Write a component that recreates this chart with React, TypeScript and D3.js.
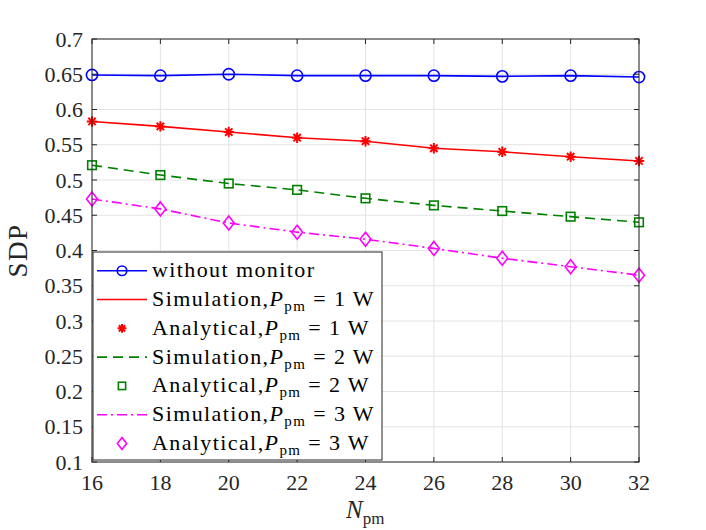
import React from "react";
import * as d3 from "d3";

const xValues = [16, 18, 20, 22, 24, 26, 28, 30, 32];
const withoutMonitor = [0.649, 0.648, 0.650, 0.648, 0.648, 0.648, 0.647, 0.648, 0.646];
const pm1 = [0.583, 0.576, 0.568, 0.560, 0.555, 0.545, 0.540, 0.533, 0.527];
const pm2 = [0.521, 0.507, 0.495, 0.486, 0.474, 0.464, 0.456, 0.448, 0.440];
const pm3 = [0.473, 0.459, 0.439, 0.426, 0.416, 0.403, 0.389, 0.377, 0.365];
const xTicks = [16, 18, 20, 22, 24, 26, 28, 30, 32];
const yTicks = [0.1, 0.15, 0.2, 0.25, 0.3, 0.35, 0.4, 0.45, 0.5, 0.55, 0.6, 0.65, 0.7];

const W = 706, H = 530;
const L = 92, R = 639, T = 39, B = 462;
const FONT = "'Liberation Serif', 'Times New Roman', 'DejaVu Serif', serif";

type Marker = "circle" | "star" | "square" | "diamond" | "none";

function MarkerShape({ type, x, y, color, s = 1 }: { type: Marker; x: number; y: number; color: string; s?: number }) {
  if (type === "circle") return <circle cx={x} cy={y} r={5.6 * s} fill="none" stroke={color} strokeWidth={1.6} />;
  if (type === "square") return <rect x={x - 4.3 * s} y={y - 4.3 * s} width={8.6 * s} height={8.6 * s} fill="none" stroke={color} strokeWidth={1.6} />;
  if (type === "diamond") return <path d={`M${x},${y - 7 * s}L${x + 5.5 * s},${y}L${x},${y + 7 * s}L${x - 5.5 * s},${y}Z`} fill="none" stroke={color} strokeWidth={1.6} />;
  if (type === "star") {
    const r = 5.2 * s;
    const d = [0, 45, 90, 135].map(a => {
      const rad = (a * Math.PI) / 180;
      return `M${x - r * Math.cos(rad)},${y - r * Math.sin(rad)}L${x + r * Math.cos(rad)},${y + r * Math.sin(rad)}`;
    }).join("");
    return <path d={d} stroke={color} strokeWidth={2} fill="none" />;
  }
  return null;
}

const textStyle = { fontFamily: FONT };

export default function App() {
  const x = d3.scaleLinear().domain([16, 32]).range([L, R]);
  const y = d3.scaleLinear().domain([0.1, 0.7]).range([B, T]);
  const line = (vals: number[]) => d3.line<number>().x((_, i) => x(xValues[i])).y(v => y(v))(vals) || "";

  const series = [
    { vals: withoutMonitor, color: "#0000ff", dash: "", marker: "circle" as Marker },
    { vals: pm1, color: "#ff0000", dash: "", marker: "star" as Marker },
    { vals: pm2, color: "#008000", dash: "10,6", marker: "square" as Marker },
    { vals: pm3, color: "#ff00ff", dash: "10,4,2,4", marker: "diamond" as Marker },
  ];

  const legend: { label: string; p?: string; color: string; dash?: string; line: boolean; marker: Marker }[] = [
    { label: "without monitor", color: "#0000ff", line: true, dash: "", marker: "circle" },
    { label: "Simulation,", p: "1", color: "#ff0000", line: true, dash: "", marker: "none" },
    { label: "Analytical,", p: "1", color: "#ff0000", line: false, marker: "star" },
    { label: "Simulation,", p: "2", color: "#008000", line: true, dash: "10,6", marker: "none" },
    { label: "Analytical,", p: "2", color: "#008000", line: false, marker: "square" },
    { label: "Simulation,", p: "3", color: "#ff00ff", line: true, dash: "10,4,2,4", marker: "none" },
    { label: "Analytical,", p: "3", color: "#ff00ff", line: false, marker: "diamond" },
  ];
  const lgX = 93, lgY = 252, lgW = 289, lgH = 208;
  const row0 = 270.7, rowStep = 28.8;

  return (
    <svg width={W} height={H} style={{ display: "block", position: "absolute", left: 0, top: 0, fontFamily: FONT }}>
      <rect x={0} y={0} width={W} height={H} fill="#fff" />
      <rect x={L} y={T} width={R - L} height={B - T} fill="#fff" />
      {xTicks.map(t => (
        <line key={"gx" + t} x1={x(t)} x2={x(t)} y1={T} y2={B} stroke="#e3e3e3" strokeWidth={1} />
      ))}
      {yTicks.map(t => (
        <line key={"gy" + t} x1={L} x2={R} y1={y(t)} y2={y(t)} stroke="#e3e3e3" strokeWidth={1} />
      ))}
      {series.map((s, i) => (
        <g key={"s" + i}>
          <path d={line(s.vals)} fill="none" stroke={s.color} strokeWidth={1.6} strokeDasharray={s.dash} />
          {s.vals.map((v, j) => (
            <MarkerShape key={j} type={s.marker} x={x(xValues[j])} y={y(v)} color={s.color} />
          ))}
        </g>
      ))}
      <rect x={L} y={T} width={R - L} height={B - T} fill="none" stroke="#262626" strokeWidth={1} />
      {xTicks.map(t => (
        <g key={"tx" + t}>
          <line x1={x(t)} x2={x(t)} y1={B} y2={B - 5} stroke="#262626" />
          <line x1={x(t)} x2={x(t)} y1={T} y2={T + 5} stroke="#262626" />
          <text style={textStyle} x={x(t)} y={B + 28} textAnchor="middle" fontSize={22} fill="#262626">{t}</text>
        </g>
      ))}
      {yTicks.map(t => (
        <g key={"ty" + t}>
          <line x1={L} x2={L + 5} y1={y(t)} y2={y(t)} stroke="#262626" />
          <line x1={R} x2={R - 5} y1={y(t)} y2={y(t)} stroke="#262626" />
          <text style={textStyle} x={L - 9} y={y(t) + 7.5} textAnchor="end" fontSize={22} fill="#262626">{String(+t.toFixed(2))}</text>
        </g>
      ))}
      <text style={textStyle} transform={`translate(27,${(T + B) / 2}) rotate(-90)`} textAnchor="middle" fontSize={27} letterSpacing={1.5} fill="#262626">SDP</text>
      <text style={textStyle} x={346} y={518} fontSize={25} fill="#262626">
        <tspan fontStyle="italic">N</tspan>
        <tspan fontSize={17} dy={6}>pm</tspan>
      </text>
      <rect x={lgX} y={lgY} width={lgW} height={lgH} fill="#fff" stroke="#262626" strokeWidth={1} />
      {legend.map((e, i) => {
        const cy = row0 + rowStep * i;
        return (
          <g key={"lg" + i}>
            {e.line && <line x1={97} x2={147} y1={cy} y2={cy} stroke={e.color} strokeWidth={1.6} strokeDasharray={e.dash} />}
            <MarkerShape type={e.marker} x={122} y={cy} color={e.color} s={0.85} />
            <text style={textStyle} x={152} y={cy + 6.5} fontSize={22} letterSpacing={1.4} fill="#000">
              {e.label}
              {e.p && (
                <>
                  <tspan fontStyle="italic">P</tspan>
                  <tspan fontSize={15} dy={5}>pm</tspan>
                  <tspan dy={-5}>{` = ${e.p} W`}</tspan>
                </>
              )}
            </text>
          </g>
        );
      })}
    </svg>
  );
}
